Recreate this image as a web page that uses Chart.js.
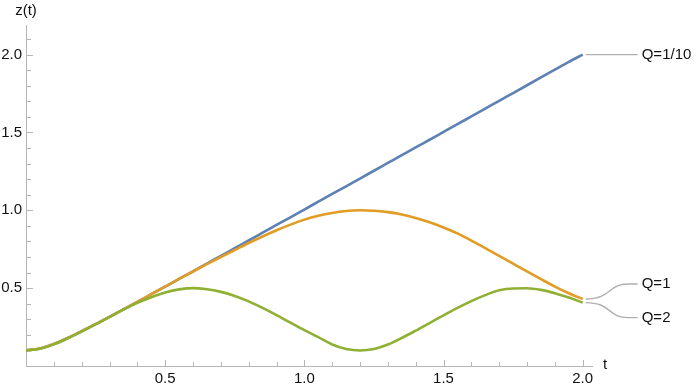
<!DOCTYPE html>
<html>
<head>
<meta charset="utf-8">
<script src="https://cdn.jsdelivr.net/npm/chart.js@4/dist/chart.umd.min.js"></script>
<style>
  html, body { margin: 0; padding: 0; background: #fff; }
  #wrap { width: 698px; height: 390px; position: relative; }
</style>
</head>
<body>
<div id="wrap"><canvas id="c"></canvas></div>
<script>
// ---- data ----
const tValues = [0,0.05,0.1,0.15,0.2,0.25,0.3,0.35,0.4,0.45,0.5,0.55,0.6,0.65,0.7,0.75,0.8,0.85,0.9,0.95,
                 1.0,1.05,1.1,1.15,1.2,1.25,1.3,1.35,1.4,1.45,1.5,1.55,1.6,1.65,1.7,1.75,1.8,1.85,1.9,1.95,2.0];
const zQ01 = [0.100,0.112,0.141,0.180,0.224,0.269,0.316,0.364,0.412,0.461,0.510,0.559,0.608,0.658,0.707,0.757,0.806,0.856,0.906,0.955,
              1.005,1.055,1.105,1.154,1.204,1.254,1.304,1.354,1.404,1.453,1.503,1.553,1.603,1.653,1.703,1.753,1.803,1.853,1.903,1.953,2.000];
const zQ1  = [0.100,0.112,0.141,0.180,0.224,0.269,0.316,0.364,0.412,0.461,0.510,0.559,0.607,0.654,0.700,0.745,0.790,0.832,0.872,0.908,
              0.940,0.965,0.983,0.995,1.000,0.997,0.988,0.973,0.951,0.923,0.890,0.852,0.805,0.757,0.707,0.657,0.607,0.558,0.510,0.467,0.430];
const zQ2  = [0.100,0.111,0.139,0.178,0.221,0.267,0.315,0.362,0.405,0.442,0.472,0.492,0.500,0.493,0.476,0.450,0.415,0.373,0.327,0.278,
              0.230,0.185,0.138,0.109,0.100,0.109,0.138,0.180,0.227,0.276,0.325,0.373,0.417,0.455,0.486,0.498,0.499,0.489,0.468,0.440,0.407];
const seriesLabels = ["Q=1/10", "Q=1", "Q=2"];
const xMajorTicks = [0.5, 1.0, 1.5, 2.0];
const yMajorTicks = [0.5, 1.0, 1.5, 2.0];
const xTickLabels = ["0.5", "1.0", "1.5", "2.0"];
const yTickLabels = ["0.5", "1.0", "1.5", "2.0"];

const colors = ["#5E81B5", "#E19C24", "#8FB032"];
const seriesData = [zQ01, zQ1, zQ2];
const calloutDy = [0, -15, 15];

const FONT = '15px "Liberation Sans", Arial, sans-serif';
const AXIS_COLOR = '#b5b5b5';
const TEXT_COLOR = '#111';

const toPts = arr => arr.map((z, i) => ({ x: tValues[i], y: z }));

const axesPlugin = {
  id: 'mmaAxes',
  beforeDatasetsDraw(chart) {
    const ctx = chart.ctx, xs = chart.scales.x, ys = chart.scales.y, ca = chart.chartArea;
    const x0 = xs.getPixelForValue(0), y0 = ys.getPixelForValue(0);
    ctx.save();
    ctx.strokeStyle = AXIS_COLOR;
    ctx.lineWidth = 1;
    ctx.beginPath();
    ctx.moveTo(Math.round(x0) + 0.5, y0);
    ctx.lineTo(Math.round(x0) + 0.5, ca.top);
    ctx.moveTo(x0, Math.round(y0) + 0.5);
    ctx.lineTo(ca.right, Math.round(y0) + 0.5);
    for (let k = 1; k <= 20; k++) {
      const v = k / 10;
      const major = k % 5 === 0;
      const px = Math.round(xs.getPixelForValue(v)) + 0.5;
      ctx.moveTo(px, Math.round(y0));
      ctx.lineTo(px, Math.round(y0) - (major ? 6 : 4));
    }
    for (let k = 1; k <= 21; k++) {
      const v = k / 10;
      const major = k % 5 === 0;
      const py = Math.round(ys.getPixelForValue(v)) + 0.5;
      ctx.moveTo(Math.round(x0) + 1, py);
      ctx.lineTo(Math.round(x0) + 1 + (major ? 6 : 4), py);
    }
    ctx.stroke();

    ctx.fillStyle = TEXT_COLOR;
    ctx.font = FONT;
    ctx.textAlign = 'center';
    ctx.textBaseline = 'middle';
    xMajorTicks.forEach((v, i) => ctx.fillText(xTickLabels[i], xs.getPixelForValue(v), y0 + 13));
    ctx.textAlign = 'right';
    yMajorTicks.forEach((v, i) => ctx.fillText(yTickLabels[i], x0 - 4, ys.getPixelForValue(v)));
    ctx.textAlign = 'center';
    ctx.fillText('z(t)', x0, ca.top - 14);
    ctx.textAlign = 'left';
    ctx.fillText('t', ca.right + 10, y0 - 1);
    ctx.restore();
  },
  afterDatasetsDraw(chart) {
    const ctx = chart.ctx, xs = chart.scales.x, ys = chart.scales.y;
    ctx.save();
    ctx.strokeStyle = '#b0b0b0';
    ctx.lineWidth = 1.4;
    ctx.fillStyle = TEXT_COLOR;
    ctx.font = FONT;
    ctx.textAlign = 'left';
    ctx.textBaseline = 'middle';
    seriesData.forEach((arr, i) => {
      const n = arr.length - 1;
      const sx = xs.getPixelForValue(tValues[n]) + 3;
      const sy = ys.getPixelForValue(arr[n]);
      const ly = sy + calloutDy[i];
      ctx.beginPath();
      ctx.moveTo(sx, sy);
      if (calloutDy[i] === 0) {
        ctx.lineTo(sx + 52, ly);
      } else {
        ctx.bezierCurveTo(sx + 26, sy, sx + 22, ly, sx + 42, ly);
        ctx.lineTo(sx + 52, ly);
      }
      ctx.stroke();
      ctx.fillText(seriesLabels[i], sx + 56, ly);
    });
    ctx.restore();
  }
};

new Chart(document.getElementById('c'), {
  type: 'line',
  data: {
    datasets: seriesData.map((arr, i) => ({
      label: seriesLabels[i],
      data: toPts(arr),
      borderColor: colors[i],
      backgroundColor: colors[i],
      borderWidth: 2.6,
      pointRadius: 0,
      fill: false,
      cubicInterpolationMode: 'monotone',
      order: 2 - i
    }))
  },
  options: {
    responsive: true,
    maintainAspectRatio: false,
    animation: false,
    layout: { padding: { left: 26, top: 25, right: 105, bottom: 24 } },
    plugins: { legend: { display: false }, tooltip: { enabled: false } },
    scales: {
      x: { type: 'linear', min: 0, max: 2.037, display: false },
      y: { type: 'linear', min: 0, max: 2.19, display: false }
    }
  },
  plugins: [axesPlugin]
});
</script>
</body>
</html>
